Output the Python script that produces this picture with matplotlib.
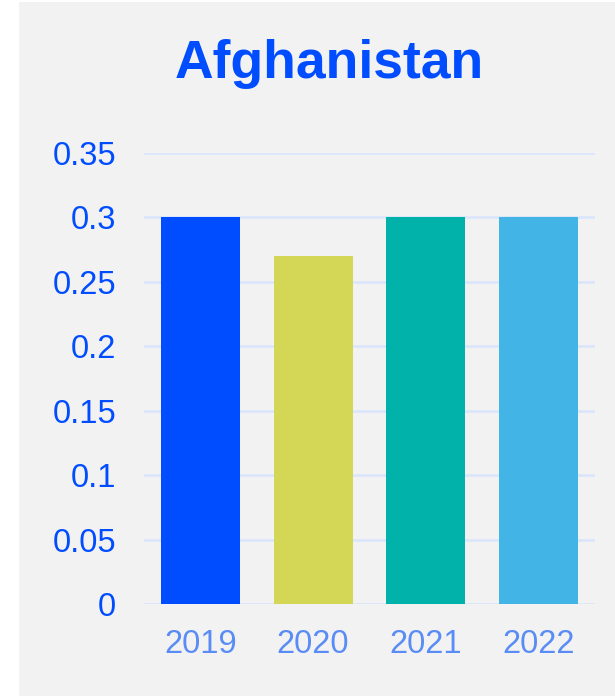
import matplotlib
matplotlib.use('Agg')
import matplotlib.pyplot as plt
from matplotlib.patches import Rectangle

# dane
years = ['2019', '2020', '2021', '2022']
values = [0.30, 0.27, 0.30, 0.30]
bar_colors = ['#004cff', '#d4d756', '#00b2a9', '#42b4e6']
y_ticks = [0, 0.05, 0.1, 0.15, 0.2, 0.25, 0.3, 0.35]
y_labels = ['0', '0.05', '0.1', '0.15', '0.2', '0.25', '0.3', '0.35']
title = 'Afghanistan'

plt.rcParams['font.family'] = ['Liberation Sans', 'DejaVu Sans']

W, H = 615, 697
fig = plt.figure(figsize=(W / 100, H / 100), dpi=100, facecolor='white')

# szare tło panelu
fig.patches.append(Rectangle((19 / W, 1 - 696 / H), (W - 19) / W, (696 - 2) / H,
                             transform=fig.transFigure, facecolor='#f2f2f2',
                             edgecolor='none', zorder=-10))

ax = fig.add_axes([144 / W, 1 - 604 / H, (595 - 144) / W, (604 - 153) / H])
ax.set_facecolor('none')

x = range(len(years))
ax.bar(x, values, width=0.70, color=bar_colors, zorder=3)

ax.set_xlim(-0.5, len(years) - 0.5)
ax.set_ylim(0, 0.35)
ax.set_yticks(y_ticks)
ax.set_yticklabels(y_labels)
ax.set_xticks(list(x))
ax.set_xticklabels(years)

ax.grid(axis='y', color='#dce6fa', linewidth=2, zorder=0)
ax.set_axisbelow(True)
for s in ax.spines.values():
    s.set_visible(False)

ax.tick_params(axis='y', length=0, pad=20, labelsize=23.5, labelcolor='#004cff')
ax.tick_params(axis='x', length=0, pad=18, labelsize=23.5, labelcolor='#5a8cf5')

fig.text(329 / W, 1 - 64 / H, title, ha='center', va='center',
         fontsize=38.5, fontweight='bold', color='#004cff')

fig.savefig('out.png', dpi=100, facecolor='white')
